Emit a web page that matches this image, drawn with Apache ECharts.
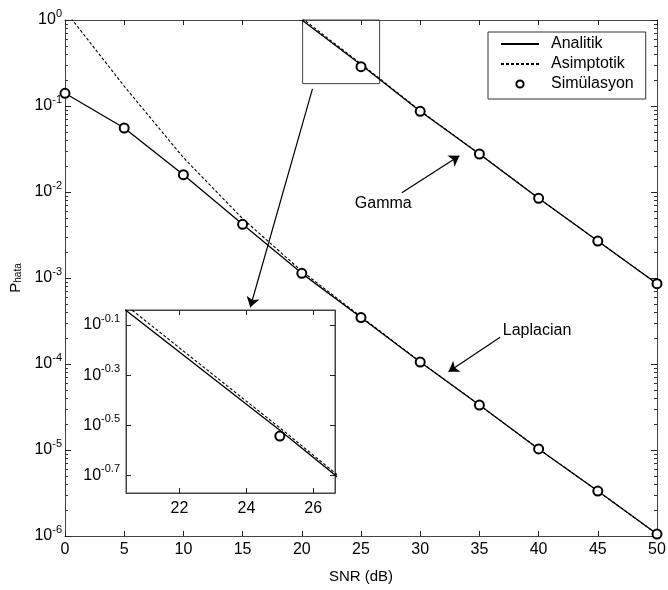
<!DOCTYPE html>
<html>
<head>
<meta charset="utf-8">
<script src="https://cdn.jsdelivr.net/npm/echarts@6/dist/echarts.min.js"></script>
</head>
<body style="margin:0">
<div id="main" style="width:668px;height:590px;"></div>
<script type="text/javascript">
// SNR (dB)
var snr = [0, 5, 10, 15, 20, 25, 30, 35, 40, 45, 50];
// Laplacian
var lapAnalitik = [0.1406, 0.0555, 0.01589, 0.00421, 0.001132, 3.47e-4, 1.054e-4, 3.33e-5, 1.028e-5, 3.33e-6, 1.054e-6];
var lapAsimptotik = [1.29, 0.17, 0.0251, 0.0049, 0.0012, 3.55e-4, 1.06e-4, 3.34e-5, 1.03e-5, 3.33e-6, 1.054e-6];
var lapSim = [0.1406, 0.0555, 0.01589, 0.00421, 0.001132, 3.47e-4, 1.054e-4, 3.33e-5, 1.028e-5, 3.33e-6, 1.054e-6];
// Gamma (20..50 dB)
var snrG = [20, 25, 30, 35, 40, 45, 50];
var gamAnalitik = [1.0, 0.302, 0.0871, 0.02767, 0.00845, 0.00269, 8.59e-4];
var gamAsimptotik = [1.05, 0.309, 0.0881, 0.0278, 0.00847, 0.00269, 8.59e-4];
var gamSim = [null, 0.2864, 0.0867, 0.02767, 0.00845, 0.00269, 8.59e-4];
// tick labels
var insetXTicks = [22, 24, 26];
var insetYTicks = [-0.7, -0.5, -0.3, -0.1];

var FONT = 'Liberation Sans, Arial, sans-serif';
var AX = '#444';

function pairs(xs, ys) {
    var out = [];
    for (var i = 0; i < xs.length; i++) {
        if (ys[i] != null) out.push([xs[i], ys[i]]);
    }
    return out;
}
function logPairs(xs, ys) {
    return pairs(xs, ys).map(function (p) { return [p[0], Math.log10(p[1])]; });
}
var minorTicks = [];
for (var k = -6; k < 0; k++) {
    for (var m = 2; m < 10; m++) minorTicks.push(m * Math.pow(10, k));
}

var myChart = echarts.init(document.getElementById('main'));

var powRich = {
    b: {fontSize: 16, fontFamily: FONT, color: '#000'},
    e: {fontSize: 11, fontFamily: FONT, color: '#000', padding: [0, 0, 12, 0]}
};

function xAx(grid, pos, min, max, extra) {
    var a = {
        type: 'value', gridIndex: grid, position: pos, min: min, max: max,
        splitLine: {show: false},
        axisLine: {lineStyle: {color: AX, width: 1}},
        axisTick: {inside: true, length: 5, lineStyle: {color: '#222'}},
        axisLabel: {show: pos === 'bottom', margin: 6, fontSize: 16, fontFamily: FONT, color: '#000'}
    };
    return Object.assign(a, extra || {});
}

var option = {
    animation: false,
    backgroundColor: '#fff',
    grid: [
        {left: 65, right: 11, top: 20, bottom: 54, outerBoundsMode: 'none'},
        {left: 126, top: 310, width: 209, height: 183, show: true, backgroundColor: '#fff', borderColor: AX, borderWidth: 1, outerBoundsMode: 'none'}
    ],
    legend: {
        data: [
            {name: 'Analitik', itemStyle: {opacity: 0}},
            {name: 'Asimptotik', itemStyle: {opacity: 0}},
            {name: 'Simülasyon'}
        ],
        orient: 'vertical', left: 488, top: 32,
        itemWidth: 38, itemHeight: 9, itemGap: 4,
        padding: [4, 12, 7, 12],
        borderColor: '#333', borderWidth: 1, backgroundColor: '#fff',
        textStyle: {fontSize: 16, fontFamily: FONT, color: '#000', padding: [0, 0, 0, 7]}
    },
    xAxis: [
        xAx(0, 'bottom', 0, 50, {interval: 5, name: 'SNR (dB)', nameLocation: 'middle', nameGap: 33,
            nameTextStyle: {fontSize: 15, fontFamily: FONT, color: '#000'}}),
        xAx(0, 'top', 0, 50, {interval: 5}),
        xAx(1, 'bottom', 20.4, 26.65, {
            axisTick: {inside: true, length: 5, lineStyle: {color: '#222'}, customValues: insetXTicks},
            axisLabel: {show: true, margin: 8, fontSize: 16, fontFamily: FONT, color: '#000', customValues: insetXTicks}
        }),
        xAx(1, 'top', 20.4, 26.65, {
            axisTick: {inside: true, length: 5, lineStyle: {color: '#222'}, customValues: insetXTicks}
        })
    ],
    yAxis: [
        {
            type: 'log', logBase: 10, gridIndex: 0, position: 'left', min: 1e-6, max: 1, interval: 1,
            splitLine: {show: false},
            axisLine: {lineStyle: {color: AX}},
            axisTick: {inside: true, length: 6, lineStyle: {color: '#222'}},
            axisLabel: {margin: 3, formatter: function (v) {
                return '{b|10}{e|' + Math.round(Math.log10(v)) + '}';
            }, rich: powRich},
            name: '{p|P}{s|hata}', nameLocation: 'middle', nameRotate: 90, nameGap: 36,
            nameTextStyle: {rich: {
                p: {fontSize: 15, fontFamily: FONT, color: '#000', padding: [0, 0, 5, 0]},
                s: {fontSize: 10, fontFamily: FONT, color: '#000'}
            }}
        },
        {
            type: 'log', logBase: 10, gridIndex: 0, position: 'left', min: 1e-6, max: 1,
            splitLine: {show: false}, axisLine: {show: false}, axisLabel: {show: false},
            axisTick: {inside: true, length: 3, lineStyle: {color: '#333'}, customValues: minorTicks}
        },
        {
            type: 'log', logBase: 10, gridIndex: 0, position: 'right', min: 1e-6, max: 1, interval: 1,
            splitLine: {show: false}, axisLine: {lineStyle: {color: AX}}, axisLabel: {show: false},
            axisTick: {inside: true, length: 6, lineStyle: {color: '#222'}}
        },
        {
            type: 'log', logBase: 10, gridIndex: 0, position: 'right', min: 1e-6, max: 1,
            splitLine: {show: false}, axisLine: {show: false}, axisLabel: {show: false},
            axisTick: {inside: true, length: 3, lineStyle: {color: '#333'}, customValues: minorTicks}
        },
        {
            type: 'value', gridIndex: 1, position: 'left', min: -0.77, max: -0.04,
            splitLine: {show: false}, axisLine: {lineStyle: {color: AX}},
            axisTick: {inside: true, length: 5, lineStyle: {color: '#222'}, customValues: insetYTicks},
            axisLabel: {margin: 6, customValues: insetYTicks, formatter: function (v) {
                return '{b|10}{e|' + v.toFixed(1) + '}';
            }, rich: powRich}
        },
        {
            type: 'value', gridIndex: 1, position: 'right', min: -0.77, max: -0.04,
            splitLine: {show: false}, axisLine: {lineStyle: {color: AX}}, axisLabel: {show: false},
            axisTick: {inside: true, length: 5, lineStyle: {color: '#222'}, customValues: insetYTicks}
        }
    ],
    series: []
};

var solid = {color: '#000', width: 1.3};
var dashed = {color: '#000', width: 1.1, type: [3, 2]};
var circ = {color: '#000', borderWidth: 1.2};

function lineS(name, data, ls, xi, yi) {
    return {name: name, type: 'line', data: data, xAxisIndex: xi, yAxisIndex: yi,
        symbol: 'none', lineStyle: ls, itemStyle: {color: '#000'}, clip: true, z: 3};
}
function simS(data, xi, yi) {
    return {name: 'Simülasyon', type: 'line', data: data, xAxisIndex: xi, yAxisIndex: yi,
        symbol: 'emptyCircle', symbolSize: 9, showSymbol: true, lineStyle: {opacity: 0, color: '#000'},
        itemStyle: circ, clip: true, z: 4};
}

option.series.push(
    lineS('Analitik', pairs(snr, lapAnalitik), solid, 0, 0),
    lineS('Analitik', pairs(snrG, gamAnalitik), solid, 0, 0),
    lineS('Asimptotik', pairs(snr, lapAsimptotik), dashed, 0, 0),
    lineS('Asimptotik', pairs(snrG, gamAsimptotik), dashed, 0, 0),
    simS(pairs(snr, lapSim), 0, 0),
    simS(pairs(snrG, gamSim), 0, 0),
    // inset
    lineS('Analitik', logPairs(snrG, gamAnalitik), solid, 2, 4),
    lineS('Asimptotik', logPairs(snrG, gamAsimptotik), dashed, 2, 4),
    simS(logPairs(snrG, gamSim), 2, 4),
    // annotations
    {
        name: 'annot', type: 'line', data: [], xAxisIndex: 0, yAxisIndex: 0, z: 5,
        markArea: {
            silent: true,
            itemStyle: {color: 'rgba(0,0,0,0)', borderColor: AX, borderWidth: 1},
            data: [[{coord: [20.07, 1]}, {coord: [26.57, Math.pow(10, -0.74)]}]]
        },
        markLine: {
            silent: true, symbol: ['none', 'arrow'], symbolSize: 10,
            lineStyle: {color: '#000', width: 1.2, type: 'solid'},
            label: {show: false},
            data: [
                [{coord: [20.9, Math.pow(10, -0.80)]}, {coord: [15.65, Math.pow(10, -3.34)]}],
                [{coord: [28.45, Math.pow(10, -2.01)]}, {coord: [33.31, Math.pow(10, -1.578)]}],
                [{coord: [36.75, Math.pow(10, -3.69)]}, {coord: [32.39, Math.pow(10, -4.09)]}]
            ]
        },
        markPoint: {
            silent: true, symbol: 'circle', symbolSize: 0,
            label: {show: true, position: 'inside', fontSize: 16, fontFamily: FONT, color: '#000',
                formatter: function (p) { return p.name; }},
            data: [
                {name: 'Gamma', coord: [26.88, Math.pow(10, -2.14)]},
                {name: 'Laplacian', coord: [39.87, Math.pow(10, -3.616)]}
            ]
        }
    }
);

myChart.setOption(option);
</script>
</body>
</html>
